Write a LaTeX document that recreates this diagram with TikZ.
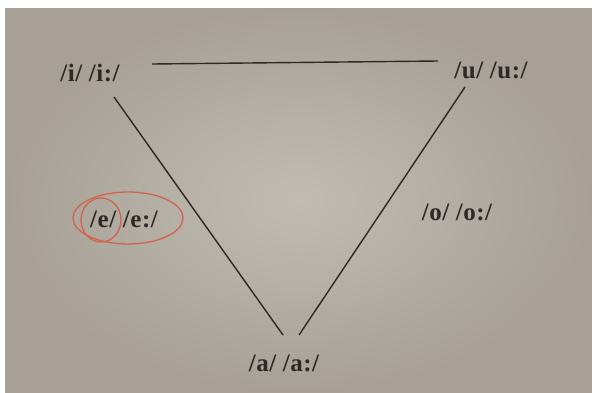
\documentclass[tikz,border=0pt]{standalone}
\usepackage{fontspec}
\setmainfont{Liberation Serif}[LetterSpace=2]
\definecolor{paper}{RGB}{194,189,178}
\definecolor{paperdark}{RGB}{166,160,150}
\definecolor{ink}{RGB}{45,41,37}
\definecolor{redpen}{RGB}{210,100,75}
\begin{document}
\begin{tikzpicture}[x=1pt,y=-1pt,
  lbl/.style={text=ink,font=\fontsize{25}{28}\selectfont\bfseries,inner sep=0pt},
  edge/.style={draw=ink,line width=1.4pt},
  circ/.style={draw=redpen,line width=1.3pt}]
\useasboundingbox (0,0) rectangle (592,392);
\fill[white] (0,0) rectangle (592,392);
\shade[inner color=paper,outer color=paperdark] (5,8) rectangle (592,392);
\node[lbl] (i) at (90,73) {/i/ /i:/};
\node[lbl] (u) at (491,70) {/u/ /u:/};
\node[lbl] (e) at (124,219) {/e/ /e:/};
\node[lbl] (o) at (457,212) {/o/ /o:/};
\node[lbl] (a) at (284,363) {/a/ /a:/};
\coordinate (t1) at (152,64);
\coordinate (t2) at (438,61);
\coordinate (l1) at (114,97);
\coordinate (l2) at (283,335);
\coordinate (r1) at (465,87);
\coordinate (r2) at (299,335);
\draw[edge] (t1) -- (t2);
\draw[edge] (l1) -- (l2);
\draw[edge] (r1) -- (r2);
\draw[circ] (128,218) ellipse [x radius=55,y radius=26];
\draw[circ] (101,220) ellipse [x radius=20,y radius=22];
\end{tikzpicture}
\end{document}
